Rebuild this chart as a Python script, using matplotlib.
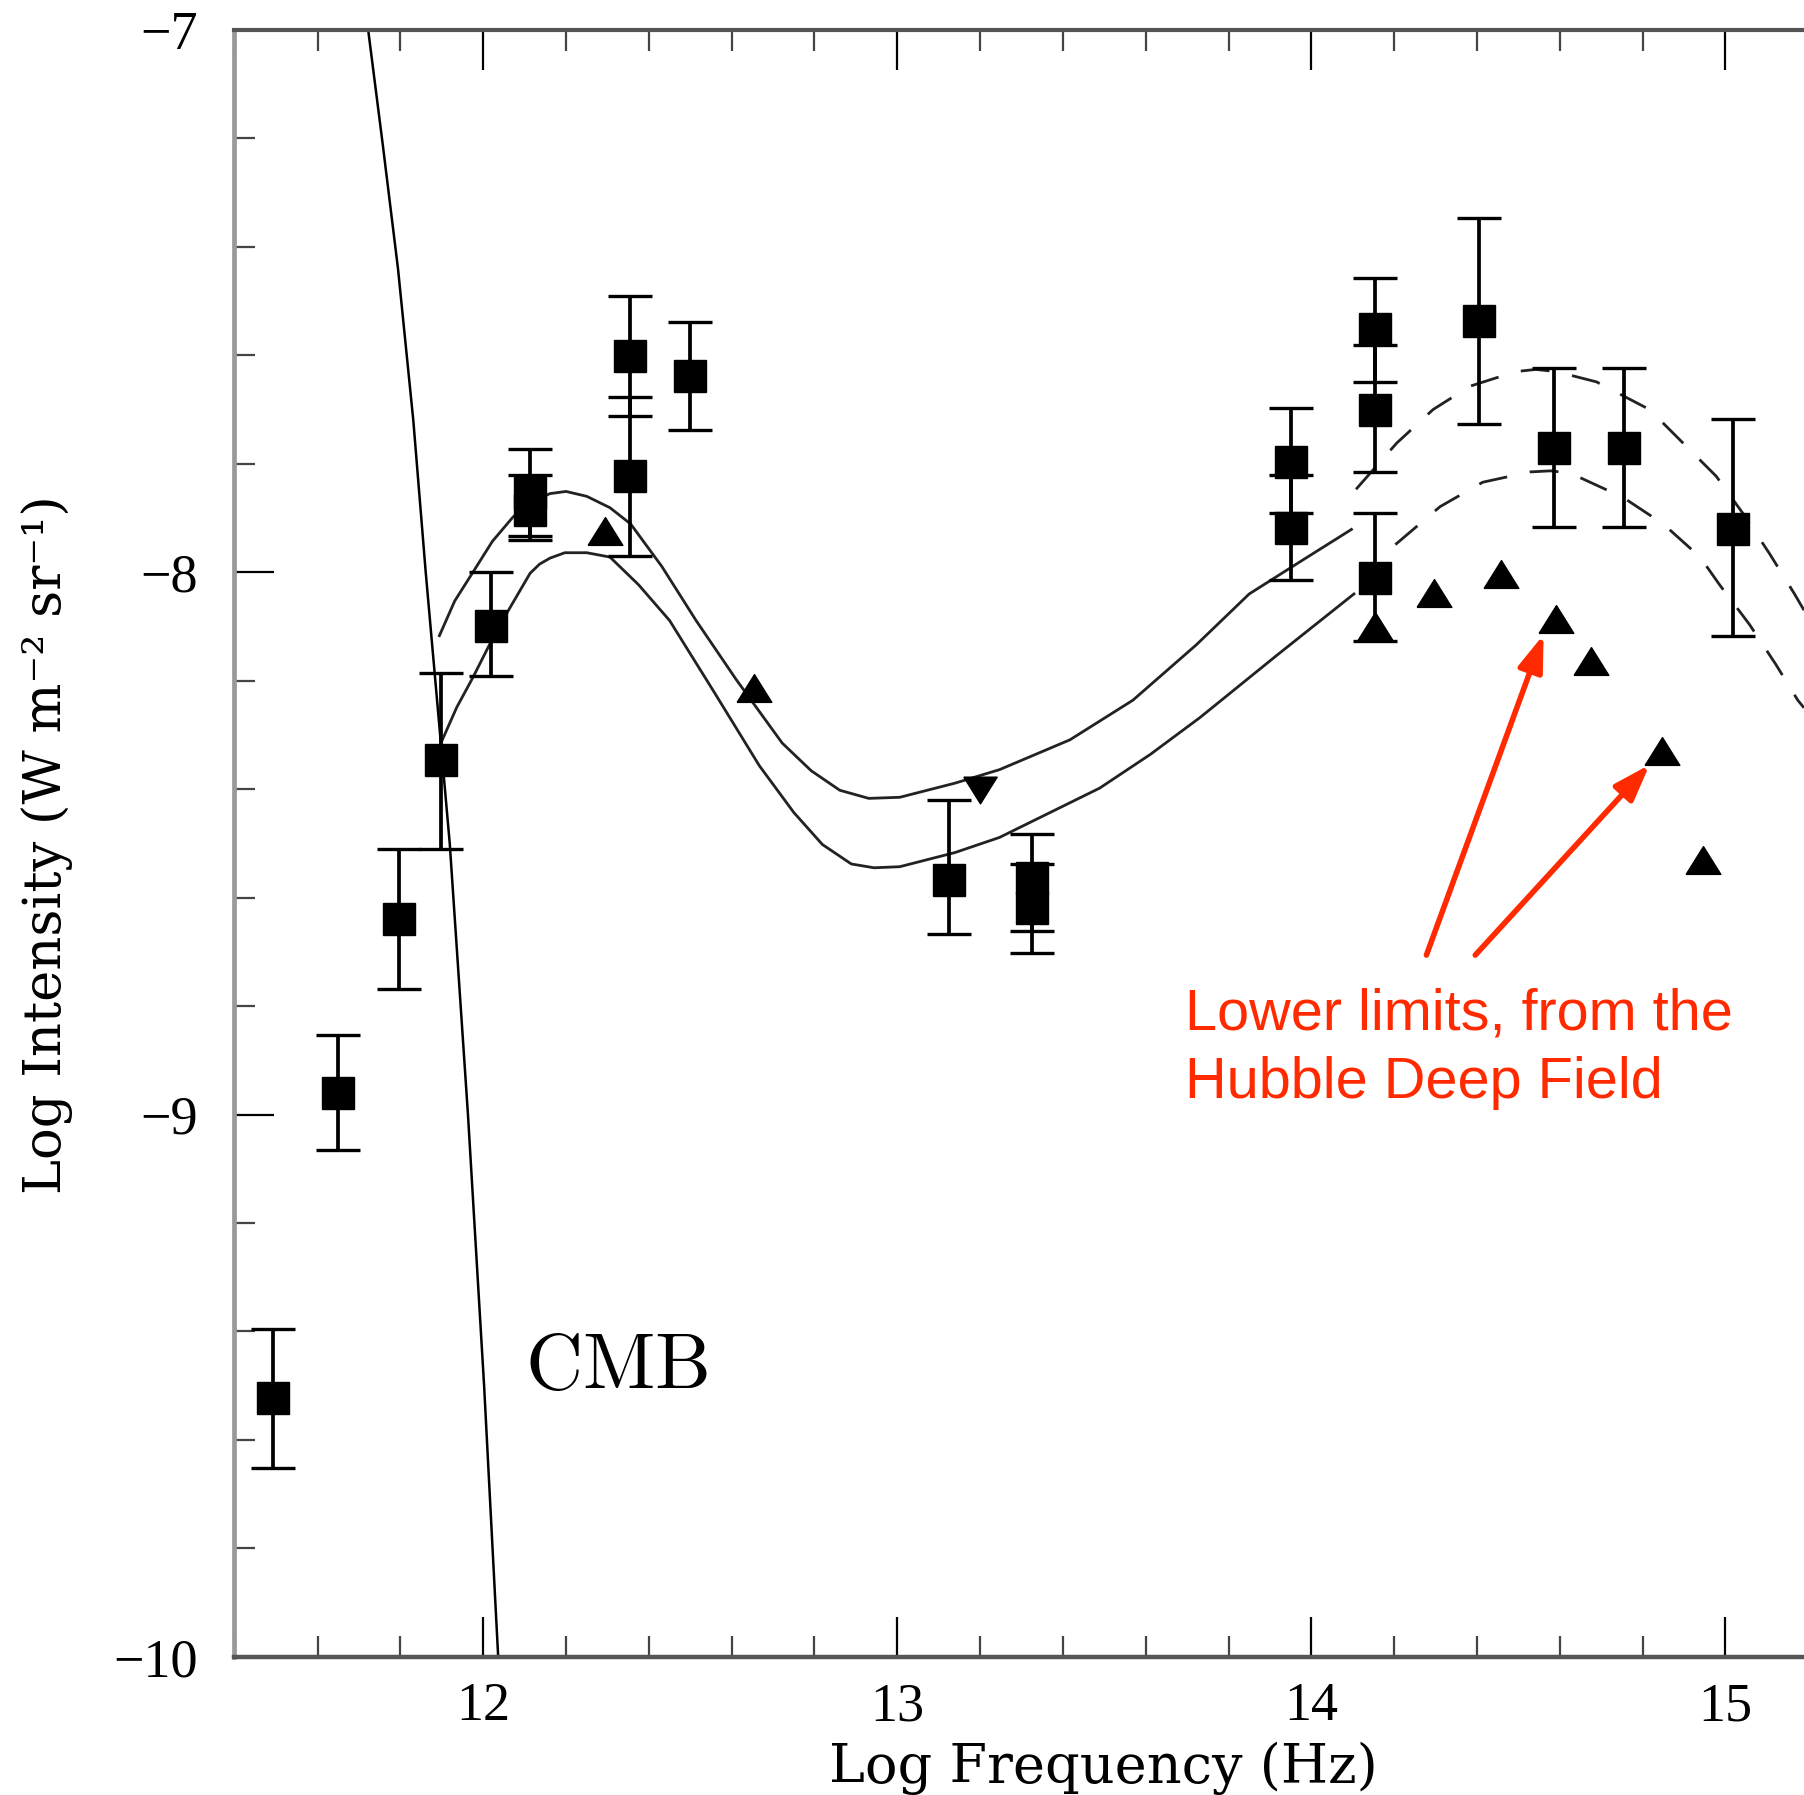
import matplotlib
matplotlib.use('Agg')
import matplotlib.pyplot as plt
from matplotlib.ticker import MultipleLocator
from matplotlib.patches import ArrowStyle

plt.rcParams['mathtext.fontset'] = 'cm'

# measured points with error bars: log nu, log I, lower / upper error
sq_x = [11.492, 11.650, 11.797, 11.897, 12.019, 12.114, 12.114, 12.354, 12.354, 12.499,
        13.125, 13.325, 13.325, 13.950, 13.950, 14.154, 14.154, 14.154, 14.404, 14.586,
        14.756, 15.019]
sq_y = [-9.523, -8.960, -8.640, -8.347, -8.100, -7.853, -7.885, -7.602, -7.823, -7.638,
        -8.568, -8.563, -8.620, -7.796, -7.919, -7.551, -7.700, -8.011, -7.536, -7.770,
        -7.770, -7.921]
sq_lo = [0.128, 0.106, 0.128, 0.164, 0.091, 0.081, 0.055, 0.109, 0.147, 0.100,
         0.099, 0.098, 0.082, 0.095, 0.095, 0.098, 0.115, 0.115, 0.190, 0.147,
         0.147, 0.196]
sq_hi = [0.128, 0.106, 0.130, 0.162, 0.100, 0.080, 0.064, 0.111, 0.146, 0.099,
         0.148, 0.081, 0.082, 0.098, 0.098, 0.094, 0.119, 0.120, 0.189, 0.147,
         0.147, 0.203]

# lower limits (up triangles) and upper limit (down triangle)
tri_x = [12.294, 12.653, 14.154, 14.296, 14.458, 14.592, 14.675, 14.847, 14.947]
tri_y = [-7.924, -8.213, -8.100, -8.038, -8.004, -8.087, -8.164, -8.330, -8.530]
down_x = [13.200]
down_y = [-8.402]

# CMB curve
cmb_x = [11.722, 11.757, 11.794, 11.831, 11.861, 11.919, 11.963, 12.002, 12.036]
cmb_y = [-7.0, -7.21, -7.44, -7.72, -8.0, -8.5, -9.0, -9.5, -10.0]

# model curves (solid part)
up_x = [11.894, 11.931, 11.975, 12.022, 12.072, 12.117, 12.161, 12.200, 12.250, 12.306,
        12.356, 12.431, 12.514, 12.611, 12.722, 12.792, 12.861, 12.931, 13.006, 13.139,
        13.247, 13.417, 13.569, 13.722, 13.850, 13.972, 14.097]
up_y = [-8.117, -8.053, -8.000, -7.943, -7.898, -7.870, -7.855, -7.851, -7.860, -7.881,
        -7.911, -7.989, -8.089, -8.198, -8.315, -8.366, -8.402, -8.417, -8.415, -8.389,
        -8.364, -8.309, -8.236, -8.134, -8.040, -7.981, -7.921]
lo_x = [11.900, 11.936, 11.975, 12.022, 12.061, 12.113, 12.136, 12.161, 12.197, 12.250,
        12.306, 12.375, 12.450, 12.556, 12.667, 12.750, 12.819, 12.889, 12.944, 13.006,
        13.139, 13.247, 13.489, 13.611, 13.731, 13.917, 14.103]
lo_y = [-8.311, -8.249, -8.194, -8.123, -8.070, -8.002, -7.985, -7.974, -7.964, -7.964,
        -7.972, -8.023, -8.089, -8.219, -8.357, -8.443, -8.502, -8.538, -8.545, -8.543,
        -8.517, -8.489, -8.398, -8.336, -8.268, -8.153, -8.040]

# model curves (dashed part)
upd_x = [14.108, 14.206, 14.294, 14.383, 14.494, 14.542, 14.592, 14.689, 14.817, 14.978,
         15.042, 15.107, 15.167, 15.190]
upd_y = [-7.847, -7.762, -7.700, -7.657, -7.630, -7.626, -7.630, -7.649, -7.700, -7.823,
         -7.891, -7.966, -8.040, -8.070]
lod_x = [14.203, 14.311, 14.414, 14.528, 14.578, 14.625, 14.753, 14.850, 14.939, 14.986,
         15.058, 15.122, 15.175, 15.190]
lod_y = [-7.949, -7.879, -7.834, -7.815, -7.813, -7.817, -7.862, -7.911, -7.972, -8.023,
         -8.096, -8.170, -8.236, -8.250]

red = '#ff2a00'

fig = plt.figure(figsize=(18.04, 17.95), dpi=100)
ax = fig.add_axes([0.1295, 0.0770, 0.8705, 0.9063])

ax.plot(cmb_x, cmb_y, color='black', lw=1.8, zorder=2)
ax.plot(up_x, up_y, color='#222222', lw=2.0, zorder=2)
ax.plot(lo_x, lo_y, color='#222222', lw=2.0, zorder=2)
ax.plot(upd_x, upd_y, color='#222222', lw=2.0, ls=(0, (10.4, 8.3)), zorder=2)
ax.plot(lod_x, lod_y, color='#222222', lw=2.0, ls=(0, (10.4, 8.3)), zorder=2)

ax.errorbar(sq_x, sq_y, yerr=[sq_lo, sq_hi], fmt='s', color='black', ms=23,
            elinewidth=2.7, capsize=15.8, capthick=2.4, zorder=3)

tri_up = [(-1, -0.8), (1, -0.8), (0, 0.8), (-1, -0.8)]
tri_dn = [(-1, 0.8), (1, 0.8), (0, -0.8), (-1, 0.8)]
ax.plot(tri_x, tri_y, ls='none', marker=tri_up, ms=25, color='black', zorder=3)
ax.plot(down_x, down_y, ls='none', marker=tri_dn, ms=24, color='black', zorder=3)

ax.text(12.100, -9.506, r'$\mathrm{CMB}$', fontsize=57, ha='left', va='baseline')

ax.text(13.694, -8.843, 'Lower limits, from the', color=red, fontsize=41.5,
        family='Liberation Sans', ha='left', va='baseline')
ax.text(13.694, -8.969, 'Hubble Deep Field', color=red, fontsize=41.5,
        family='Liberation Sans', ha='left', va='baseline')
arrow = ArrowStyle('-|>', head_length=1.1, head_width=0.38)
ax.annotate('', xy=(14.561, -8.115), xytext=(14.278, -8.706),
            arrowprops=dict(arrowstyle=arrow, color=red, lw=4, mutation_scale=20,
                            shrinkA=0, shrinkB=0))
ax.annotate('', xy=(14.817, -8.355), xytext=(14.396, -8.706),
            arrowprops=dict(arrowstyle=arrow, color=red, lw=4, mutation_scale=20,
                            shrinkA=0, shrinkB=0))

ax.set_xlim(11.397, 15.19)
ax.set_ylim(-10, -7)
ax.xaxis.set_major_locator(MultipleLocator(1))
ax.xaxis.set_minor_locator(MultipleLocator(0.2))
ax.yaxis.set_major_locator(MultipleLocator(1))
ax.yaxis.set_minor_locator(MultipleLocator(0.2))

ax.tick_params(which='both', direction='in', top=True, right=False,
               labelfontfamily='Liberation Serif', labelsize=39)
ax.tick_params(which='major', length=29, width=1.6, color='black')
ax.tick_params(which='minor', length=15, width=1.6, color='#444444')
ax.tick_params(axis='x', pad=18)
ax.tick_params(axis='y', pad=26)

ax.spines['right'].set_visible(False)
ax.spines['left'].set_color('#999999')
ax.spines['left'].set_linewidth(3.4)
ax.spines['top'].set_color('#555555')
ax.spines['top'].set_linewidth(3.0)
ax.spines['bottom'].set_color('#555555')
ax.spines['bottom'].set_linewidth(3.2)

ax.set_xlabel('Log Frequency (Hz)', fontsize=39, family='DejaVu Serif')
ax.set_ylabel('Log Intensity (W m⁻² sr⁻¹)', fontsize=38, family=['DejaVu Serif', 'DejaVu Sans'])
ax.xaxis.set_label_coords(0.5538, -0.0685)
ax.yaxis.set_label_coords(-0.1188, 0.4993)
ax.xaxis.label.set_va('center')
ax.yaxis.label.set_va('center')

fig.savefig('out.png', dpi=100)
